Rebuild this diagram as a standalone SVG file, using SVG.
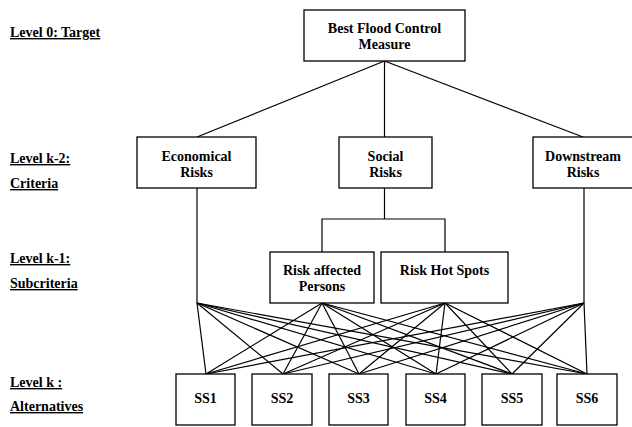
<svg xmlns="http://www.w3.org/2000/svg" width="632" height="427" viewBox="0 0 632 427">
<style>
.box{fill:#fff;stroke:#000;stroke-width:1.3}
.t{font-family:"Liberation Serif","Times New Roman",serif;font-weight:bold;font-size:14px;fill:#000;text-anchor:middle}
.lbl{font-family:"Liberation Serif","Times New Roman",serif;font-weight:bold;font-size:14px;fill:#000;text-decoration:underline}
.c line,.c polyline{stroke:#000;stroke-width:1.2;fill:none}
</style>
<rect width="632" height="427" fill="#fff"/>
<g id="levels">
<text class="lbl" x="10" y="37">Level 0: Target</text>
<text class="lbl" x="10" y="163">Level k-2:</text>
<text class="lbl" x="10" y="188">Criteria</text>
<text class="lbl" x="10" y="263">Level k-1:</text>
<text class="lbl" x="10" y="288">Subcriteria</text>
<text class="lbl" x="10" y="387">Level k :</text>
<text class="lbl" x="10" y="411">Alternatives</text>
</g>
<g class="c" id="connectors">
<line x1="384.5" y1="61" x2="197" y2="137"/>
<line x1="384.5" y1="61" x2="384.5" y2="137"/>
<line x1="384.5" y1="61" x2="583" y2="137"/>
<line x1="197" y1="188" x2="197" y2="303"/>
<line x1="584" y1="188" x2="584" y2="303"/>
<line x1="384.5" y1="188" x2="384.5" y2="219"/>
<polyline points="322,252 322,219 445,219 445,252"/>
<g id="fan">
<line x1="197" y1="303" x2="206" y2="374"/><line x1="197" y1="303" x2="283" y2="374"/><line x1="197" y1="303" x2="359" y2="374"/><line x1="197" y1="303" x2="436" y2="374"/><line x1="197" y1="303" x2="512" y2="374"/><line x1="197" y1="303" x2="587" y2="374"/>
<line x1="322" y1="303" x2="206" y2="374"/><line x1="322" y1="303" x2="283" y2="374"/><line x1="322" y1="303" x2="359" y2="374"/><line x1="322" y1="303" x2="436" y2="374"/><line x1="322" y1="303" x2="512" y2="374"/><line x1="322" y1="303" x2="587" y2="374"/>
<line x1="445" y1="303" x2="206" y2="374"/><line x1="445" y1="303" x2="283" y2="374"/><line x1="445" y1="303" x2="359" y2="374"/><line x1="445" y1="303" x2="436" y2="374"/><line x1="445" y1="303" x2="512" y2="374"/><line x1="445" y1="303" x2="587" y2="374"/>
<line x1="584" y1="303" x2="206" y2="374"/><line x1="584" y1="303" x2="283" y2="374"/><line x1="584" y1="303" x2="359" y2="374"/><line x1="584" y1="303" x2="436" y2="374"/><line x1="584" y1="303" x2="512" y2="374"/><line x1="584" y1="303" x2="587" y2="374"/>
</g>
</g>
<g id="target"><rect class="box" x="304" y="10" width="161" height="51"/><text class="t" x="384.5" y="33">Best Flood Control</text><text class="t" x="384.5" y="49">Measure</text></g>
<g id="economical"><rect class="box" x="137" y="137" width="119" height="51"/><text class="t" x="196.5" y="161">Economical</text><text class="t" x="196.5" y="177">Risks</text></g>
<g id="social"><rect class="box" x="339" y="137" width="93" height="51"/><text class="t" x="385.5" y="161">Social</text><text class="t" x="385.5" y="177">Risks</text></g>
<g id="downstream"><rect class="box" x="533" y="137" width="101" height="51"/><text class="t" x="583" y="161">Downstream</text><text class="t" x="583" y="177">Risks</text></g>
<g id="persons"><rect class="box" x="270" y="252" width="104" height="51"/><text class="t" x="322" y="275">Risk affected</text><text class="t" x="322" y="291">Persons</text></g>
<g id="hotspots"><rect class="box" x="381" y="252" width="127" height="51"/><text class="t" x="444.5" y="275">Risk Hot Spots</text></g>
<g id="ss1"><rect class="box" x="176" y="374" width="59" height="51"/><text class="t" x="205.5" y="403">SS1</text></g>
<g id="ss2"><rect class="box" x="252" y="374" width="60" height="51"/><text class="t" x="282" y="403">SS2</text></g>
<g id="ss3"><rect class="box" x="329" y="374" width="59" height="51"/><text class="t" x="358.5" y="403">SS3</text></g>
<g id="ss4"><rect class="box" x="406" y="374" width="59" height="51"/><text class="t" x="435.5" y="403">SS4</text></g>
<g id="ss5"><rect class="box" x="482" y="374" width="60" height="51"/><text class="t" x="512" y="403">SS5</text></g>
<g id="ss6"><rect class="box" x="557" y="374" width="60" height="51"/><text class="t" x="587" y="403">SS6</text></g>
</svg>
